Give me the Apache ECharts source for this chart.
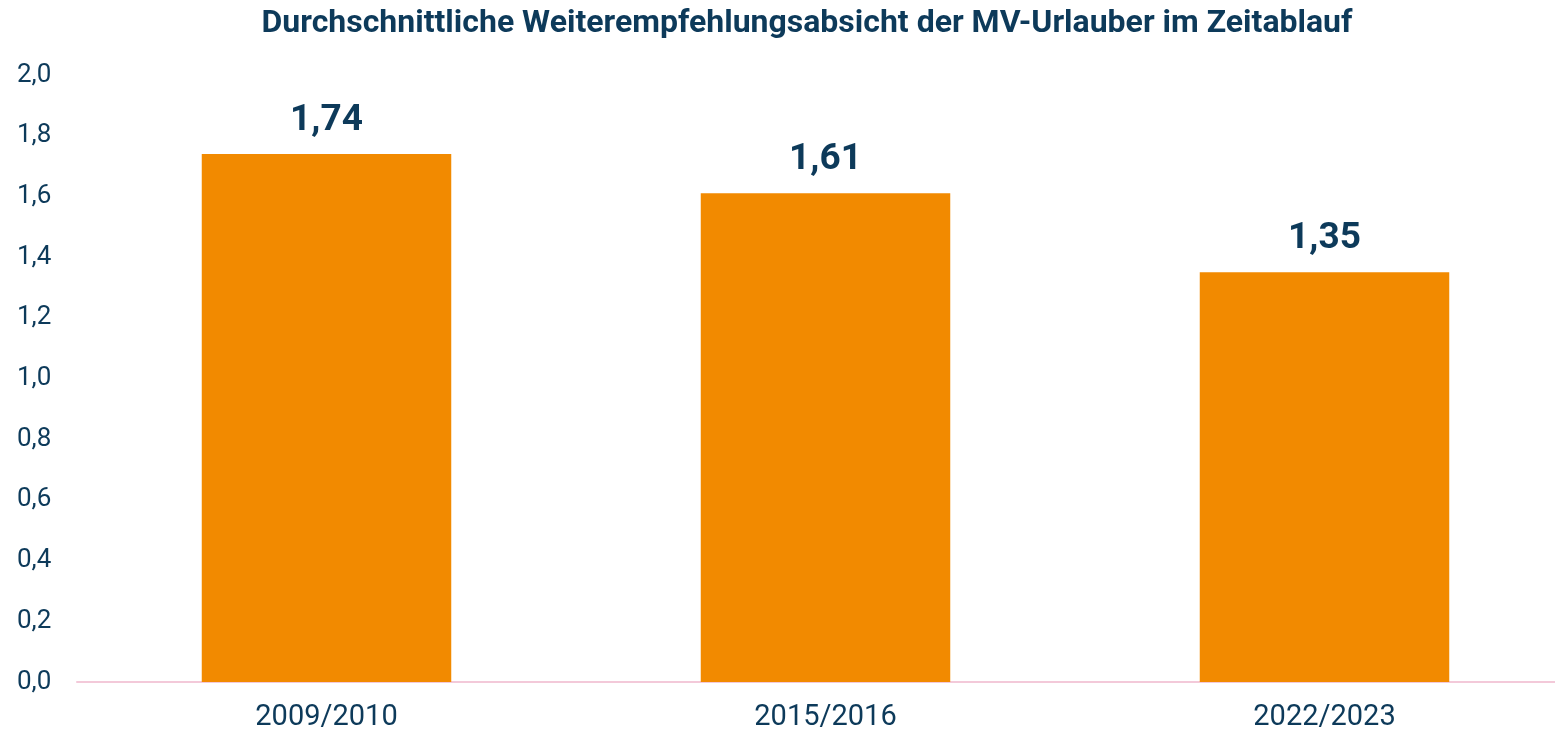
<!DOCTYPE html>
<html>
<head>
<meta charset="utf-8">
<script src="https://cdn.jsdelivr.net/npm/echarts@6/dist/echarts.min.js"></script>
<style>
  html, body { margin: 0; padding: 0; background: #fff; }
  #chart { width: 1555px; height: 734px; }
</style>
</head>
<body>
<div id="chart"></div>
<script>
var titleText = 'Durchschnittliche Weiterempfehlungsabsicht der MV-Urlauber im Zeitablauf'
var periods = ['2009/2010', '2015/2016', '2022/2023']
var scores = [1.74, 1.61, 1.35]

var navy = '#0d3a5a'

function comma(v, digits) {
    return v.toFixed(digits).replace('.', ',')
}

var option = {
    backgroundColor: '#fff',
    title: {
        text: titleText,
        left: 802,
        textAlign: 'center',
        top: 3,
        textStyle: {
            fontFamily: 'Roboto',
            fontWeight: 'bold',
            fontSize: 32,
            color: navy
        }
    },
    grid: {
        left: 77,
        right: -19,
        top: 75,
        bottom: 52,
        outerBoundsMode: 'none',
        containLabel: false
    },
    xAxis: {
        type: 'category',
        data: periods,
        axisLine: { lineStyle: { color: '#f3c9d9', width: 2 } },
        axisTick: { show: false },
        axisLabel: {
            margin: 21,
            fontFamily: 'Roboto',
            fontSize: 29,
            color: navy
        }
    },
    yAxis: {
        type: 'value',
        min: 0,
        max: 2,
        interval: 0.2,
        splitLine: { show: false },
        axisLine: { show: false },
        axisTick: { show: false },
        axisLabel: {
            align: 'left',
            margin: 60,
            fontFamily: 'Roboto',
            fontSize: 26,
            color: navy,
            formatter: function (v) { return comma(v, 1) }
        }
    },
    series: [{
        type: 'bar',
        data: scores,
        barWidth: '50%',
        itemStyle: { color: '#f28a00' },
        label: {
            show: true,
            position: 'top',
            distance: 15,
            fontFamily: 'Roboto',
            fontWeight: 'bold',
            fontSize: 37,
            color: navy,
            formatter: function (p) { return comma(p.value, 2) }
        }
    }],
    animation: false
}

var myChart = echarts.init(document.getElementById('chart'))
myChart.setOption(option)
</script>
</body>
</html>
